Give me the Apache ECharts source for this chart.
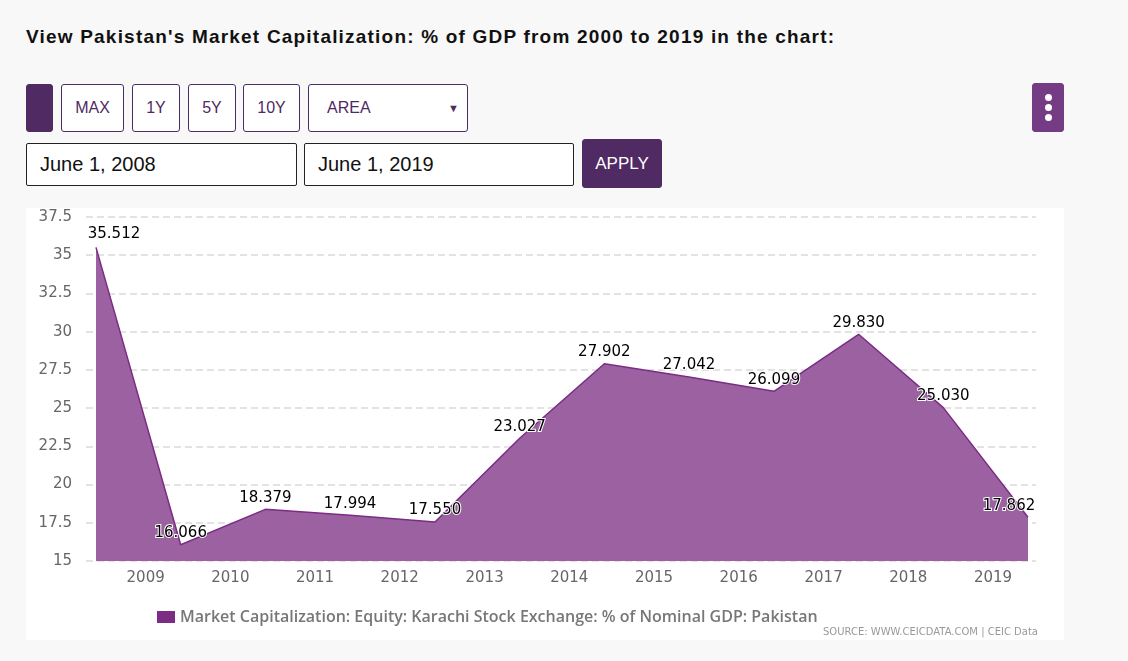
<!DOCTYPE html>
<html>
<head>
<meta charset="utf-8">
<script src="https://cdn.jsdelivr.net/npm/echarts@6/dist/echarts.min.js"></script>
<style>
  html, body { margin: 0; padding: 0; background: #f8f8f8; width: 1128px; height: 661px; overflow: hidden; font-family: "Liberation Sans", Arial, sans-serif; }
  .title { position: absolute; left: 26px; top: 26px; font-size: 19px; font-weight: bold; color: #111; letter-spacing: 1.2px; }
  .btn { position: absolute; box-sizing: border-box; border: 1px solid #4f2a63; border-radius: 3px; background: #fff; color: #4f2a63; font-size: 16px; display: flex; align-items: center; justify-content: center; }
  .inp { position: absolute; box-sizing: border-box; border: 1px solid #222; border-radius: 2px; background: #fff; color: #111; font-size: 20px; display: flex; align-items: center; padding-left: 13px; }
  #chart { position: absolute; left: 26px; top: 208px; width: 1038px; height: 432px; background: #fff; }
</style>
</head>
<body>
<div class="title">View Pakistan's Market Capitalization: % of GDP from 2000 to 2019 in the chart:</div>
<div class="btn" style="left:26px;top:84px;width:27px;height:48px;background:#4f2a63;"></div>
<div class="btn" style="left:61px;top:84px;width:63px;height:48px;">MAX</div>
<div class="btn" style="left:132px;top:84px;width:48px;height:48px;">1Y</div>
<div class="btn" style="left:188px;top:84px;width:48px;height:48px;">5Y</div>
<div class="btn" style="left:243px;top:84px;width:57px;height:48px;">10Y</div>
<div class="btn" style="left:308px;top:84px;width:160px;height:48px;justify-content:space-between;padding:0 8px 0 18px;"><span>AREA</span><span style="font-size:11px;">&#9660;</span></div>
<div class="inp" style="left:26px;top:143px;width:271px;height:43px;">June 1, 2008</div>
<div class="inp" style="left:304px;top:143px;width:270px;height:43px;">June 1, 2019</div>
<div class="btn" style="left:582px;top:139px;width:80px;height:49px;background:#4f2a63;color:#fff;border-color:#4f2a63;font-size:17px;">APPLY</div>
<div class="btn" style="left:1032px;top:83px;width:32px;height:49px;background:#763b85;border-color:#763b85;flex-direction:column;gap:3px;">
  <div style="width:7px;height:7px;border-radius:50%;background:#fff;"></div>
  <div style="width:7px;height:7px;border-radius:50%;background:#fff;"></div>
  <div style="width:7px;height:7px;border-radius:50%;background:#fff;"></div>
</div>
<div id="chart"></div>
<script>
const dates = ['2008-06-01','2009-06-01','2010-06-01','2011-06-01','2012-06-01','2013-06-01','2014-06-01','2015-06-01','2016-06-01','2017-06-01','2018-06-01','2019-06-01'];
const values = [35.512, 16.066, 18.379, 17.994, 17.550, 23.027, 27.902, 27.042, 26.099, 29.830, 25.030, 17.862];
const seriesName = 'Market Capitalization: Equity: Karachi Stock Exchange: % of Nominal GDP: Pakistan';
const yTicks = { min: 15, max: 37.5, step: 2.5 };
const sourceText = 'SOURCE: WWW.CEICDATA.COM | CEIC Data';

const t0 = Date.parse(dates[0]);
const t1 = Date.parse(dates[dates.length - 1]);
const span = t1 - t0;
const xMin = t0 - span * 10 / 932;
const xMax = t1 + span * 8 / 932;
const YEAR = 365.25 * 24 * 3600 * 1000;
const lastIdx = dates.length - 1;

const data = dates.map((d, i) => [d, values[i]]);

const chart = echarts.init(document.getElementById('chart'), null, { renderer: 'canvas' });
chart.setOption({
  animation: false,
  grid: { left: 60, right: 28, top: 9, bottom: 79, containLabel: false },
  legend: {
    left: 126, top: 396,
    itemWidth: 18, itemHeight: 12, itemGap: 10,
    icon: 'rect',
    itemStyle: { color: '#7b2d84', opacity: 1 },
    textStyle: { fontFamily: 'Open Sans', fontWeight: 600, fontSize: 16, color: '#777' },
    data: [seriesName]
  },
  xAxis: {
    type: 'time',
    min: xMin, max: xMax,
    minInterval: YEAR * 0.99, maxInterval: YEAR * 1.01,
    axisLine: { show: false },
    axisTick: { show: false },
    splitLine: { show: false },
    axisLabel: {
      formatter: '{yyyy}',
      fontFamily: 'DejaVu Sans', fontSize: 15, color: '#666', margin: 10,
      showMinLabel: false, showMaxLabel: false
    }
  },
  yAxis: {
    type: 'value',
    min: yTicks.min, max: yTicks.max, interval: yTicks.step,
    axisLine: { show: false },
    axisTick: { show: false },
    axisLabel: { fontFamily: 'DejaVu Sans', fontSize: 15, color: '#666', margin: 14 },
    splitLine: { lineStyle: { color: '#e3e3e3', type: [7, 4], width: 2 } }
  },
  graphic: [{
    type: 'text', right: 26, top: 419,
    style: { text: sourceText, fontFamily: 'DejaVu Sans', fontSize: 10, fill: '#999' }
  }],
  series: [{
    name: seriesName,
    type: 'line',
    data: data,
    symbol: 'circle',
    symbolSize: 0.01,
    showSymbol: true,
    itemStyle: { color: '#7b2d84' },
    color: '#7b2d84',
    lineStyle: { color: '#7b2d84', width: 1.5 },
    areaStyle: { color: '#9b61a1', opacity: 1 },
    labelLayout: function (p) {
      if (p.dataIndex === 0) return { dx: 18, dy: -2, hideOverlap: false };
      if (p.dataIndex === lastIdx) return { dx: -19, hideOverlap: false };
      return { hideOverlap: false };
    },
    label: {
      show: true, position: 'top', distance: 4,
      formatter: p => p.value[1].toFixed(3),
      fontFamily: 'DejaVu Sans', fontSize: 15, color: '#000',
      textBorderColor: '#fff', textBorderWidth: 2
    }
  }]
});
</script>
</body>
</html>
